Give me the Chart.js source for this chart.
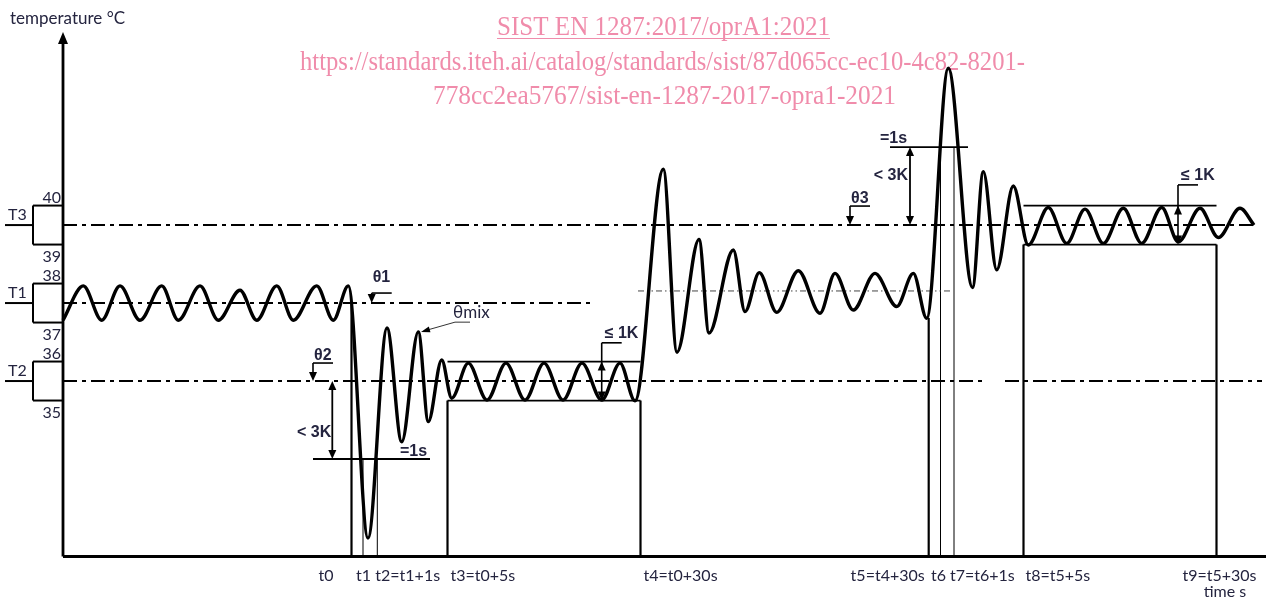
<!DOCTYPE html>
<html><head><meta charset="utf-8">
<script src="https://cdn.jsdelivr.net/npm/chart.js@4.4.1/dist/chart.umd.min.js"></script>
<style>html,body{margin:0;padding:0;background:#fff;}#wrap{width:1266px;height:600px;}</style>
</head><body><div id="wrap"><canvas id="c" width="1266" height="600"></canvas></div>
<script>
// ---- DATA (time in schematic units, temperature in °C) ----
const waveTime = [0,2.03,3.87,5.7,7.7,9.87,11.53,13.7,15.53,17.7,19.37,21.37,23.03,25.37,27.03,28.53,30.5,32.4,33.87,35.53,36.53,37.87,38.87,40.53,42.4,44.3,46.2,48.1,50.0,51.9,53.87,55.7,57.2,60.03,61.4,63.6,64.6,67.03,68.2,69.63,71.37,73.53,75.7,77.2,79.03,81.2,83.37,85.03,86.37,88.53,90.95,92.03,93.37,95.03,96.53,98.53,100.37,102.2,104.03,106.03,107.87,109.87,111.53,113.7,115.53,117.7,119.1];
const waveTemp = [37.06,37.94,37.06,37.94,37.06,37.94,37.06,37.94,37.06,37.83,37.06,37.94,37.06,37.94,37.06,37.94,31.47,36.86,33.94,36.76,34.46,36.04,35.06,35.96,35.01,35.96,35.01,35.96,35.01,35.96,35.01,35.96,34.99,40.93,36.24,39.13,36.73,38.86,37.28,38.28,37.26,38.33,37.24,38.26,37.32,38.26,37.41,38.26,37.11,43.52,37.90,40.87,38.35,40.50,38.99,39.95,39.03,39.91,39.03,39.93,39.03,39.95,39.07,39.93,39.18,39.93,39.5];

const levelNames = ['T3','T1','T2'];
const levelTemps = [39.5, 37.5, 35.5];
const levelBoxLow = [39, 37, 35];
const levelBoxHigh = [40, 38, 36];
const levelLineSpans = [[[0,119.2]], [[0,53.2]], [[0,92.2],[94.2,119.9]]];
const mixTemp = 37.81;
const mixSpan = [57.5, 88.9];

const markerTimes = [28.85, 30.0, 31.43, 38.45, 57.75, 86.57, 87.75, 89.1, 96.05, 115.35];
const markerTops  = [37.5, 33.5, 33.5, 35.0, 35.0, 37.12, 41.5, 41.5, 39.0, 39.0];
const thinMarkers = [1, 2, 6, 7];
const tickLabels = ['t0','t1','t2=t1+1s','t3=t0+5s','t4=t0+30s','t5=t4+30s','t6','t7=t6+1s','t8=t5+5s','t9=t5+30s'];

const bandStart = [38.45, 96.05];
const bandEnd   = [57.75, 115.35];
const bandLow   = [35, 39];
const bandHigh  = [36, 40];

const oneSecTemps = [33.5, 41.5];
const oneSecSpans = [[25.0, 36.7], [82.7, 90.5]];

const axisMinT = 31, axisMaxT = 44.4, timeMin = -6.3, timeMax = 120.3;

// ---- datasets ----
const datasets = [];
datasets.push({data: waveTime.map((t,i)=>({x:t,y:waveTemp[i]})), borderColor:'#000', borderWidth:3.4,
  cubicInterpolationMode:'monotone', pointRadius:0, fill:false, clip:false});
function seg(x0,y0,x1,y1,w,dash,color){
  datasets.push({data:[{x:x0,y:y0},{x:x1,y:y1}], borderColor:color||'#000', borderWidth:w,
    borderDash:dash||[], pointRadius:0, tension:0, fill:false, clip:false});
}
const DASHDOT = [14,5,4,5];
levelTemps.forEach((v,i)=>{
  levelLineSpans[i].forEach(s=>seg(s[0],v,s[1],v,2,DASHDOT));
  seg(-3.0, levelBoxHigh[i], 0, levelBoxHigh[i], 2);
  seg(-3.0, levelBoxLow[i], 0, levelBoxLow[i], 2);
  seg(-3.0, levelBoxLow[i], -3.0, levelBoxHigh[i], 2);
  seg(-5.8, v, -3.0, v, 2);
});
seg(mixSpan[0], mixTemp, mixSpan[1], mixTemp, 1, [6,3,1.5,3,1.5,3], '#444');
markerTimes.forEach((t,i)=>{
  const thin = thinMarkers.includes(i);
  seg(t, axisMinT, t, markerTops[i], thin ? 1 : 2.2);
});
bandStart.forEach((s,i)=>{
  seg(s, bandLow[i], bandEnd[i], bandLow[i], 1.8);
  seg(s, bandHigh[i], bandEnd[i], bandHigh[i], 1.8);
});
oneSecTemps.forEach((v,i)=>seg(oneSecSpans[i][0], v, oneSecSpans[i][1], v, 1.8));

// ---- drawing helpers ----
const TXT = '#24243f';
function head(ctx, x, y, dx, dy, len, w){
  const L = Math.hypot(dx,dy); const ux = dx/L, uy = dy/L;
  ctx.beginPath();
  ctx.moveTo(x, y);
  ctx.lineTo(x - ux*len - uy*w/2, y - uy*len + ux*w/2);
  ctx.lineTo(x - ux*len + uy*w/2, y - uy*len - ux*w/2);
  ctx.closePath(); ctx.fill();
}
function line(ctx,x0,y0,x1,y1,w){ctx.lineWidth=w;ctx.beginPath();ctx.moveTo(x0,y0);ctx.lineTo(x1,y1);ctx.stroke();}
function fitText(ctx, text, cx, base, width){
  const m = ctx.measureText(text).width;
  ctx.save(); ctx.translate(cx, base); ctx.scale(width/m, 1); ctx.textAlign='center'; ctx.fillText(text,0,0); ctx.restore();
}

const annot = {
  id:'annot',
  beforeDatasetsDraw(chart){
    const ctx = chart.ctx; ctx.save();
    ctx.fillStyle = '#f08cab'; ctx.strokeStyle = '#f08cab';
    ctx.font = '28px "Liberation Serif"'; ctx.textBaseline = 'alphabetic';
    fitText(ctx, 'SIST EN 1287:2017/oprA1:2021', 663.5, 35, 333);
    line(ctx, 497, 38.5, 830, 38.5, 1);
    fitText(ctx, 'https://standards.iteh.ai/catalog/standards/sist/87d065cc-ec10-4c82-8201-', 662.5, 70, 725);
    fitText(ctx, '778cc2ea5767/sist-en-1287-2017-opra1-2021', 664.5, 104, 463);
    ctx.restore();
  },
  afterDatasetsDraw(chart){
    const ctx = chart.ctx, xs = chart.scales.x, ys = chart.scales.y;
    const X = v=>xs.getPixelForValue(v), Y = v=>ys.getPixelForValue(v);
    ctx.save();
    ctx.strokeStyle = '#000'; ctx.fillStyle = '#000';
    const x0 = X(0), yb = Y(axisMinT);
    line(ctx, x0, yb, x0, Y(44.45)+8, 2.8);
    head(ctx, x0, Y(44.45), 0, -1, 12, 10);
    line(ctx, x0, yb, X(timeMax), yb, 2.8);

    ctx.fillStyle = TXT; ctx.font = '17px Lato'; ctx.textBaseline='alphabetic';
    ctx.textAlign = 'left'; ctx.fillText('temperature °C', 10, 24);
    ctx.font = '16px Lato';
    ctx.textAlign = 'center'; ctx.fillText('time s', 1225, 597);

    levelTemps.forEach((v,i)=>{
      ctx.textAlign='left'; ctx.fillText(levelNames[i], 8, Y(v)-5);
      ctx.textAlign='right';
      ctx.fillText(String(levelBoxHigh[i]), x0-2, Y(levelBoxHigh[i])-3);
      ctx.fillText(String(levelBoxLow[i]), x0-2, Y(levelBoxLow[i])+17);
    });

    const align = ['right','center','left','left','left','right','center','left','left','center'];
    const off = [-18, 0.5, -2, 3, 3, -4, -2, -4, 2, 3];
    tickLabels.forEach((s,i)=>{ ctx.textAlign = align[i]; ctx.fillText(s, X(markerTimes[i])+off[i], 581); });

    ctx.font = 'bold 16px "Liberation Sans"';
    const thetas = [['θ1', 30.87, 37.5, 10, 21], ['θ2', 25.0, 35.5, 18, 21], ['θ3', 78.7, 39.5, 19, 22]];
    thetas.forEach(([t, tx, tv, up, tb])=>{
      const ax = X(tx), ay = Y(tv);
      ctx.fillStyle='#000';
      line(ctx, ax, ay-up, ax+20, ay-up, 1.6);
      line(ctx, ax, ay-up, ax, ay-6, 1.6);
      head(ctx, ax, ay, 0, 1, 9, 8);
      ctx.fillStyle=TXT; ctx.textAlign='left'; ctx.fillText(t, ax+1, ay-tb);
    });

    ctx.fillStyle='#000';
    const k3 = [[26.93, 35.5, 33.5], [84.7, 39.5, 41.5]];
    k3.forEach(([tx, a, b])=>{
      const ax = X(tx), ya = Y(a), yb2 = Y(b);
      const dir = yb2 > ya ? 1 : -1;
      line(ctx, ax, ya + dir*4, ax, yb2 - dir*4, 1.8);
      head(ctx, ax, ya, 0, -dir, 9, 8);
      head(ctx, ax, yb2, 0, dir, 9, 8);
    });
    ctx.fillStyle=TXT; ctx.textAlign='right';
    ctx.fillText('< 3K', X(26.93)-1, 437);
    ctx.fillText('< 3K', X(84.7)-2, 180);
    ctx.textAlign='left';
    ctx.fillText('=1s', X(33.7), Y(33.5)-3);
    ctx.fillText('=1s', X(81.7), Y(41.5)-4);

    const k1 = [[53.87, 36.48, 36, 35], [111.5, 40.53, 40, 39]];
    k1.forEach(([tx, top, hi, lo])=>{
      const ax = X(tx), yt = Y(top);
      ctx.fillStyle='#000';
      line(ctx, ax, yt, ax+20, yt, 1.6);
      line(ctx, ax, yt, ax, Y(lo)-4, 1.6);
      head(ctx, ax, Y(hi), 0, -1, 9, 8);
      head(ctx, ax, Y(lo), 0, 1, 9, 8);
      ctx.fillStyle=TXT; ctx.textAlign='left';
      ctx.fillText('≤ 1K', ax+3, yt-5);
    });

    ctx.fillStyle='#000'; ctx.strokeStyle='#333';
    const mx0 = X(39.2), my0 = Y(37.01), mx1 = X(35.8), my1 = Y(36.76);
    line(ctx, mx0, my0, mx0+15, my0, 1);
    line(ctx, mx0, my0, mx1+5, my1-1.5, 1);
    head(ctx, mx1, my1, mx1-mx0, my1-my0, 9, 6);
    ctx.fillStyle=TXT; ctx.font='17px Lato'; ctx.textAlign='left';
    ctx.fillText('θmix', mx0-2, my0-4);
    ctx.restore();
  }
};

new Chart(document.getElementById('c'), {
  type:'line',
  data:{datasets},
  options:{
    responsive:false, animation:false, events:[],
    layout:{padding:{left:0,right:0,top:34,bottom:43.5}},
    plugins:{legend:{display:false}, tooltip:{enabled:false}},
    scales:{
      x:{type:'linear', min:timeMin, max:timeMax, display:false},
      y:{type:'linear', min:axisMinT, max:axisMaxT, display:false}
    }
  },
  plugins:[annot]
});
</script></body></html>
